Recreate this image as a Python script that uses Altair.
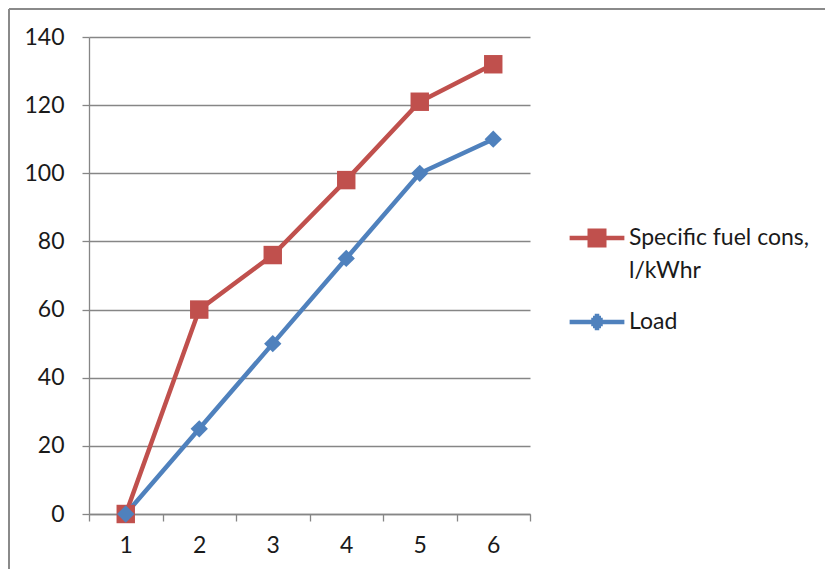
import altair as alt
import pandas as pd

categories = [1, 2, 3, 4, 5, 6]
fuel = [0, 60, 76, 98, 121, 132]
load = [0, 25, 50, 75, 100, 110]
series_names = ["Specific fuel cons, l/kWhr", "Load"]
colors = ["#C0504D", "#4F81BD"]

rows = []
for c, v in zip(categories, fuel):
    rows.append({"x": c, "value": v, "series": series_names[0]})
for c, v in zip(categories, load):
    rows.append({"x": c, "value": v, "series": series_names[1]})
df = pd.DataFrame(rows)

FONT = "Lato"
FS = 23
GRID = "#868686"
TXT = "#1a1a1a"

x_enc = alt.X("x:O", bandPosition=0.5,
              scale=alt.Scale(type="band", paddingInner=0, paddingOuter=0),
              axis=alt.Axis(title=None, labelAngle=0, tickBand="extent",
                            domainColor=GRID, tickColor=GRID, tickSize=7,
                            domainWidth=1.3, tickWidth=1.3,
                            labelPadding=13, grid=False))
y_enc = alt.Y("value:Q", scale=alt.Scale(domain=[0, 140], nice=False),
              axis=alt.Axis(title=None, values=list(range(0, 141, 20)),
                            domainColor=GRID, tickColor=GRID, tickSize=7,
                            domainWidth=1.3, tickWidth=1.3,
                            gridColor=GRID, gridWidth=1.3, labelPadding=18))
color_scale = alt.Scale(domain=series_names, range=colors)

# legend symbols: a line segment plus a marker, drawn with strokes only (unit = 27.4 px)
R = 27.4
def hline(y, hw):
    return f"M{-hw / R:.3f},{y / R:.3f}H{hw / R:.3f}"
fuel_sym = "M-1,0H1" + "".join(hline(y, 9.5) for y in [-7.2, -4.8, -2.4, 0, 2.4, 4.8, 7.2])
load_sym = "M-1,0H1" + "".join(hline(y, max(7.5 * (1 - abs(y) / 8.6), 0.5)) for y in [-6, -4, -2, 0, 2, 4, 6])

legend = alt.Legend(
    title=None, orient="none", legendX=478, legendY=171,
    symbolSize=3000, symbolStrokeWidth=4.5, symbolOpacity=1,
    labelFontSize=FS, labelFont=FONT, labelColor=TXT, labelLimit=400,
    rowPadding=9, labelOffset=2,
    labelExpr="datum.label == 'Specific fuel cons, l/kWhr' ? ['Specific fuel cons,', 'l/kWhr'] : datum.label",
)

base = alt.Chart(df)
legend_layer = base.mark_point(filled=False, opacity=0, strokeWidth=4.5).encode(
    x=x_enc, y=y_enc,
    color=alt.Color("series:N", scale=color_scale, legend=legend, sort=series_names),
    shape=alt.Shape("series:N", scale=alt.Scale(domain=series_names, range=[fuel_sym, load_sym]),
                    legend=legend, sort=series_names),
)
lines = base.mark_line(strokeWidth=4.5).encode(
    x=x_enc, y=y_enc,
    color=alt.Color("series:N", scale=color_scale, sort=series_names),
)
squares = base.transform_filter(alt.datum.series == series_names[0]).mark_point(
    filled=True, opacity=1, shape="square", size=340, color=colors[0]).encode(
    x=x_enc, y=y_enc)
diamonds = base.transform_filter(alt.datum.series == series_names[1]).mark_point(
    filled=True, opacity=1, shape="diamond", size=300, color=colors[1]).encode(
    x=x_enc, y=y_enc)
frame_df = pd.DataFrame({"k": [0]})
frame_top = alt.Chart(frame_df).mark_rule(stroke="#8a8a8a", strokeWidth=2, clip=False).encode(
    x=alt.value(-80), x2=alt.value(736), y=alt.value(-28))
frame_left = alt.Chart(frame_df).mark_rule(stroke="#8a8a8a", strokeWidth=2, clip=False).encode(
    x=alt.value(-80), y=alt.value(-28), y2=alt.value(532))

chart = alt.layer(frame_top, frame_left, legend_layer, lines, squares, diamonds).properties(
    width=441, height=477,
    autosize=alt.AutoSizeParams(type="none"),
    padding={"left": 81, "top": 29, "right": 295, "bottom": 55},
).configure(
    background="white", style={"guide-label": {"lineHeight": 33}}
).configure_view(stroke=None).configure_axis(
    labelFont=FONT, labelFontSize=FS, labelColor=TXT
)

chart.save("out.html", embed_options={"renderer": "svg", "actions": False})
